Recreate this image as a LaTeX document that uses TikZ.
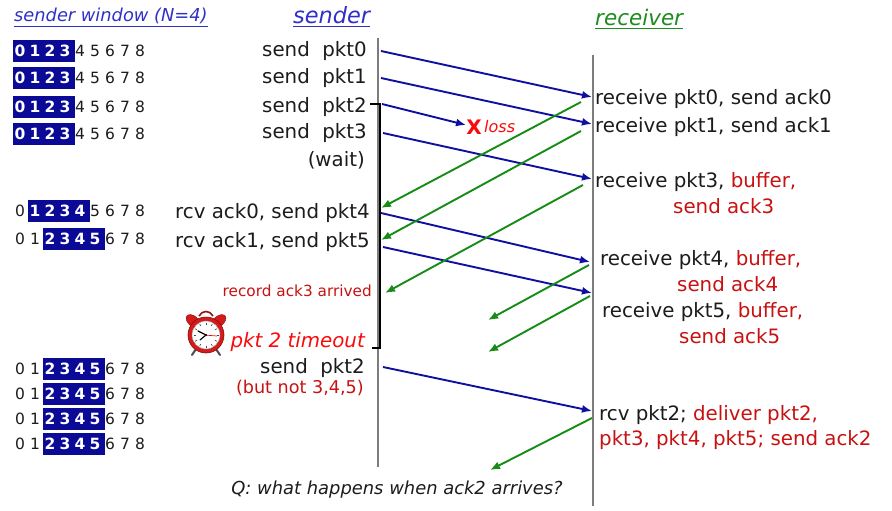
\documentclass[tikz,border=0pt]{standalone}
\usepackage{fontspec}
\setmainfont{DejaVu Sans}
\usetikzlibrary{arrows.meta}
\definecolor{navy}{RGB}{10,10,150}
\definecolor{txt}{RGB}{28,28,28}
\definecolor{dkred}{RGB}{200,18,18}
\definecolor{brred}{RGB}{250,10,10}
\definecolor{pktblue}{RGB}{16,16,160}
\definecolor{ackgreen}{RGB}{22,140,22}
\definecolor{titleblue}{RGB}{48,48,200}
\definecolor{titlegreen}{RGB}{30,140,30}
\definecolor{linegray}{RGB}{125,125,125}
\definecolor{clockred}{RGB}{215,25,25}
\newcommand{\winrow}[4]{%
  \fill[navy] ({20+15*#3-7},{#2-11}) rectangle ({20+15*#4+10},{#2+11});
  \foreach \d in {0,...,8}{%
    \ifnum\d<#3\relax \node[windig] (#1-\d) at ({20+15*\d},#2) {\d};%
    \else\ifnum\d>#4\relax \node[windig] (#1-\d) at ({20+15*\d},#2) {\d};%
    \else \node[windighl] (#1-\d) at ({20+15*\d},#2) {\d};%
    \fi\fi}}
\begin{document}
\begin{tikzpicture}[x=1pt,y=-1pt,
  lbl/.style={inner sep=0pt, text=txt, font=\fontsize{19.8}{24}\selectfont},
  sl/.style={lbl, anchor=base east},
  rl/.style={lbl, anchor=base west},
  windig/.style={inner sep=0pt, anchor=center, text=txt, font=\fontsize{15.5}{18}\selectfont},
  windighl/.style={windig, text=white, font=\fontsize{15.5}{18}\selectfont\bfseries},
  tl/.style={line width=1.4pt, draw=linegray},
  pkt/.style={draw=pktblue, line width=1.9pt, -{Latex[length=10pt,width=8pt]}},
  ack/.style={draw=ackgreen, line width=1.9pt, -{Latex[length=10pt,width=8pt]}},
]
\useasboundingbox (0,0) rectangle (892,511);
\fill[white] (0,0) rectangle (892,511);

% titles
\node[inner sep=0pt, anchor=base west, text=titleblue, font=\fontsize{17.8}{20}\selectfont\itshape] (twin) at (14,22) {\underline{sender window (N=4)}};
\node[inner sep=0pt, anchor=base west, text=titleblue, font=\fontsize{22.4}{26}\selectfont\itshape] (tsnd) at (293,24) {\underline{sender}};
\node[inner sep=0pt, anchor=base west, text=titlegreen, font=\fontsize{21.5}{26}\selectfont\itshape] (trcv) at (595,26) {\underline{receiver}};

% window rows
\winrow{w1}{51}{0}{3}
\winrow{w2}{78}{0}{3}
\winrow{w3}{107}{0}{3}
\winrow{w4}{134}{0}{3}
\winrow{w5}{211}{1}{4}
\winrow{w6}{239}{2}{5}
\winrow{w7}{369}{2}{5}
\winrow{w8}{394}{2}{5}
\winrow{w9}{419}{2}{5}
\winrow{w10}{444}{2}{5}

% time lines
\coordinate (sTop) at (378,38); \coordinate (sBot) at (378,467);
\coordinate (rTop) at (593,55); \coordinate (rBot) at (593,506);
\draw[tl] (sTop) -- (sBot);
\draw[tl] (rTop) -- (rBot);

% timer bracket
\coordinate (bA) at (370,104); \coordinate (bB) at (380,104);
\coordinate (bC) at (380,348); \coordinate (bD) at (372,348);
\draw[black, line width=2.4pt] (bA) -- (bB) -- (bC) -- (bD);

% sender labels
\node[sl] (s0) at (367,57) {send\ \ pkt0};
\node[sl] (s1) at (367,84) {send\ \ pkt1};
\node[sl] (s2) at (367,112) {send\ \ pkt2};
\node[sl] (s3) at (367,139) {send\ \ pkt3};
\node[sl] (swait) at (365,166) {(wait)};
\node[sl] (s4) at (370,218) {rcv ack0, send pkt4};
\node[sl] (s5) at (370,247) {rcv ack1, send pkt5};
\node[sl, text=dkred, font=\fontsize{15.3}{18}\selectfont] (sa3) at (372,296) {record ack3 arrived};
\node[sl, text=brred, font=\fontsize{19.8}{24}\selectfont\itshape] (sto) at (365,347) {pkt 2 timeout};
\node[sl] (s2r) at (365,373) {send\ \ pkt2};
\node[sl, text=dkred, font=\fontsize{17.6}{20}\selectfont] (snot) at (364,393) {(but not 3,4,5)};

% receiver labels
\node[rl] (r0) at (595,105) {receive pkt0, send ack0};
\node[rl] (r1) at (595,132) {receive pkt1, send ack1};
\node[rl] (r3) at (595,187) {receive pkt3, \textcolor{dkred}{buffer,}};
\node[rl, text=dkred] (r3b) at (673,213) {send ack3};
\node[rl] (r4) at (600,265) {receive pkt4, \textcolor{dkred}{buffer,}};
\node[rl, text=dkred] (r4b) at (677,291) {send ack4};
\node[rl] (r5) at (602,317) {receive pkt5, \textcolor{dkred}{buffer,}};
\node[rl, text=dkred] (r5b) at (679,343) {send ack5};
\node[rl] (r2) at (599,420) {rcv pkt2; \textcolor{dkred}{deliver pkt2,}};
\node[rl, text=dkred] (r2b) at (599,445) {pkt3, pkt4, pkt5; send ack2};

% loss marker
\node[inner sep=0pt, text=brred, font=\fontsize{20}{24}\selectfont\bfseries] (lx) at (474,127) {X};
\node[inner sep=0pt, anchor=base west, text=brred, font=\fontsize{16}{20}\selectfont\itshape] (lloss) at (484,132) {loss};

% question
\node[inner sep=0pt, anchor=base, text=txt, font=\fontsize{17.9}{22}\selectfont\itshape] (q) at (397,494) {Q: what happens when ack2 arrives?};

% packet arrows
\coordinate (pb0a) at (381,51);  \coordinate (pb0b) at (592,97);
\coordinate (pb1a) at (381,78);  \coordinate (pb1b) at (592,124);
\coordinate (pb2a) at (382,104); \coordinate (pb2b) at (466,125);
\coordinate (pb3a) at (383,133); \coordinate (pb3b) at (592,179);
\coordinate (pb4a) at (381,213); \coordinate (pb4b) at (590,262);
\coordinate (pb5a) at (383,247); \coordinate (pb5b) at (592,293);
\coordinate (pb6a) at (383,367); \coordinate (pb6b) at (592,411);
\draw[pkt] (pb0a) -- (pb0b);
\draw[pkt] (pb1a) -- (pb1b);
\draw[pkt] (pb2a) -- (pb2b);
\draw[pkt] (pb3a) -- (pb3b);
\draw[pkt] (pb4a) -- (pb4b);
\draw[pkt] (pb5a) -- (pb5b);
\draw[pkt] (pb6a) -- (pb6b);

% ack arrows
\coordinate (ak0a) at (581,102); \coordinate (ak0b) at (381,208);
\coordinate (ak1a) at (581,131); \coordinate (ak1b) at (381,240);
\coordinate (ak3a) at (583,185); \coordinate (ak3b) at (385,293);
\coordinate (ak4a) at (589,265); \coordinate (ak4b) at (488,320);
\coordinate (ak5a) at (590,296); \coordinate (ak5b) at (488,352);
\coordinate (ak2a) at (592,418); \coordinate (ak2b) at (490,470);
\draw[ack] (ak0a) -- (ak0b);
\draw[ack] (ak1a) -- (ak1b);
\draw[ack] (ak3a) -- (ak3b);
\draw[ack] (ak4a) -- (ak4b);
\draw[ack] (ak5a) -- (ak5b);
\draw[ack] (ak2a) -- (ak2b);

% alarm clock
\begin{scope}[shift={(206,335)}]
  \draw[clockred!70!black, line width=1.6pt] (-7,-19) .. controls (-4,-25) and (4,-25) .. (7,-19);
  \draw[black!70, line width=2pt, line cap=round] (-10,14) -- (-14,20);
  \draw[black!70, line width=2pt, line cap=round] (10,14) -- (14,20);
  \fill[clockred, draw=clockred!60!black, rotate around={-40:(-13,-14)}] (-13,-14) ellipse (8 and 5);
  \fill[clockred, draw=clockred!60!black, rotate around={40:(13,-14)}] (13,-14) ellipse (8 and 5);
  \fill[clockred, draw=clockred!60!black, line width=0.6pt] (0,0) circle (18);
  \fill[white, draw=black!40, line width=0.5pt] (0,0) circle (14);
  \foreach \a in {0,30,...,330}
    \draw[black!70, line width=0.7pt] (\a:10.5) -- (\a:12.5);
  \draw[black, line width=1.3pt, line cap=round] (0,0) -- (-8,-4);
  \draw[black, line width=1.1pt, line cap=round] (0,0) -- (-6,5);
  \draw[clockred, line width=0.7pt] (-2,0) -- (11,1);
  \fill[black] (0,0) circle (1.2);
\end{scope}
\end{tikzpicture}
\end{document}
